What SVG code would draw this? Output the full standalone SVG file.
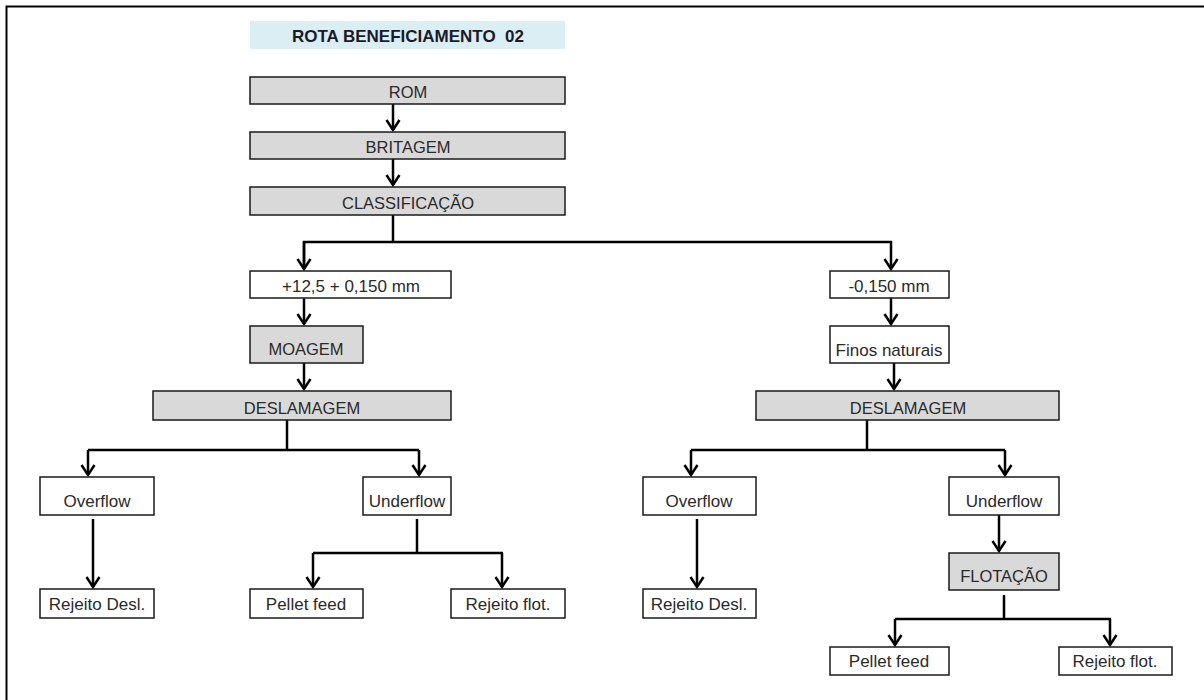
<svg xmlns="http://www.w3.org/2000/svg" width="1204" height="700" viewBox="0 0 1204 700">
<defs>
<style>
.box{stroke:#1a1a1a;stroke-width:1.5;}
.g{fill:#D9D9D9;}
.w{fill:#FFFFFF;}
.t{font-family:"Liberation Sans",Arial,sans-serif;font-size:16.5px;fill:#2a2a2a;text-anchor:middle;}
.s{font-size:17px;}
.ttl{font-family:"Liberation Sans",Arial,sans-serif;font-size:17px;font-weight:bold;fill:#1a1a2a;text-anchor:middle;}
.c{fill:none;stroke:#000;stroke-width:2.5;}
</style>
<marker id="ah" markerUnits="userSpaceOnUse" markerWidth="16" markerHeight="16" viewBox="-12 -8 14 16" refX="0" refY="0" orient="auto" overflow="visible">
<path d="M-10,-6.5 L0,0 L-10,6.5" fill="none" stroke="#000" stroke-width="2.5"/>
</marker>
</defs>
<rect width="1204" height="700" fill="#fff"/>
<path d="M6.5,700 V6.5 H1204" fill="none" stroke="#000" stroke-width="2"/>

<g id="title">
<rect x="250" y="21" width="315" height="28" fill="#DAEEF3"/>
<text class="ttl" x="408" y="42">ROTA BENEFICIAMENTO&#160; 02</text>
</g>

<g id="connectors">
<path class="c" d="M393,104 V130" marker-end="url(#ah)"/>
<path class="c" d="M393,159 V185" marker-end="url(#ah)"/>
<path class="c" d="M393,215 V242"/>
<path class="c" d="M304,269 V242 H891 V269" marker-end="url(#ah)"/>
<path class="c" d="M304,242 V269" marker-end="url(#ah)"/>
<path class="c" d="M304,298 V324" marker-end="url(#ah)"/>
<path class="c" d="M304,363 V389" marker-end="url(#ah)"/>
<path class="c" d="M891,298 V324" marker-end="url(#ah)"/>
<path class="c" d="M894,363 V389" marker-end="url(#ah)"/>

<path class="c" d="M287,420 V450"/>
<path class="c" d="M88,450 H419"/>
<path class="c" d="M88,450 V475" marker-end="url(#ah)"/>
<path class="c" d="M419,450 V475" marker-end="url(#ah)"/>
<path class="c" d="M93,519 V587" marker-end="url(#ah)"/>
<path class="c" d="M417,519 V553"/>
<path class="c" d="M313,553 H503"/>
<path class="c" d="M313,553 V587" marker-end="url(#ah)"/>
<path class="c" d="M502,553 V587" marker-end="url(#ah)"/>

<path class="c" d="M867,420 V450"/>
<path class="c" d="M691,450 H1005"/>
<path class="c" d="M691,450 V475" marker-end="url(#ah)"/>
<path class="c" d="M1005,450 V475" marker-end="url(#ah)"/>
<path class="c" d="M697,519 V587" marker-end="url(#ah)"/>
<path class="c" d="M999,515 V551" marker-end="url(#ah)"/>
<path class="c" d="M1004,595 V619"/>
<path class="c" d="M895,619 H1111"/>
<path class="c" d="M895,619 V645" marker-end="url(#ah)"/>
<path class="c" d="M1110,619 V645" marker-end="url(#ah)"/>
</g>

<g id="rom"><rect class="box g" x="250" y="77" width="315" height="27"/><text class="t" x="408" y="98">ROM</text></g>
<g id="britagem"><rect class="box g" x="250" y="132" width="315" height="27"/><text class="t" x="408" y="153">BRITAGEM</text></g>
<g id="classificacao"><rect class="box g" x="250" y="187" width="315" height="28"/><text class="t" x="408" y="209">CLASSIFICAÇÃO</text></g>

<g id="grosso"><rect class="box w" x="250" y="271" width="201" height="27"/><text class="t s" x="351" y="292">+12,5 + 0,150 mm</text></g>
<g id="moagem"><rect class="box g" x="250" y="326" width="113" height="37"/><text class="t" x="306" y="355">MOAGEM</text></g>
<g id="deslamagem1"><rect class="box g" x="153" y="391" width="298" height="29"/><text class="t" x="302" y="414">DESLAMAGEM</text></g>
<g id="overflow1"><rect class="box w" x="40" y="477" width="114" height="38"/><text class="t s" x="97" y="507">Overflow</text></g>
<g id="underflow1"><rect class="box w" x="363" y="477" width="88" height="38"/><text class="t s" x="407" y="507">Underflow</text></g>
<g id="rejeitodesl1"><rect class="box w" x="40" y="589" width="114" height="29"/><text class="t s" x="97" y="610">Rejeito Desl.</text></g>
<g id="pelletfeed1"><rect class="box w" x="250" y="589" width="113" height="29"/><text class="t s" x="306" y="610">Pellet feed</text></g>
<g id="rejeitoflot1"><rect class="box w" x="451" y="589" width="114" height="29"/><text class="t s" x="508" y="610">Rejeito flot.</text></g>

<g id="fino"><rect class="box w" x="830" y="271" width="119" height="27"/><text class="t s" x="889" y="292">-0,150 mm</text></g>
<g id="finosnaturais"><rect class="box w" x="830" y="326" width="119" height="37"/><text class="t s" x="889" y="356">Finos naturais</text></g>
<g id="deslamagem2"><rect class="box g" x="756" y="391" width="303" height="29"/><text class="t" x="908" y="414">DESLAMAGEM</text></g>
<g id="overflow2"><rect class="box w" x="643" y="477" width="113" height="38"/><text class="t s" x="699" y="507">Overflow</text></g>
<g id="underflow2"><rect class="box w" x="949" y="477" width="110" height="38"/><text class="t s" x="1004" y="507">Underflow</text></g>
<g id="rejeitodesl2"><rect class="box w" x="643" y="589" width="113" height="29"/><text class="t s" x="699" y="610">Rejeito Desl.</text></g>
<g id="flotacao"><rect class="box g" x="949" y="553" width="110" height="37"/><text class="t" x="1004" y="582">FLOTAÇÃO</text></g>
<g id="pelletfeed2"><rect class="box w" x="830" y="647" width="119" height="28"/><text class="t s" x="889" y="667">Pellet feed</text></g>
<g id="rejeitoflot2"><rect class="box w" x="1059" y="647" width="113" height="28"/><text class="t s" x="1115" y="667">Rejeito flot.</text></g>
</svg>
